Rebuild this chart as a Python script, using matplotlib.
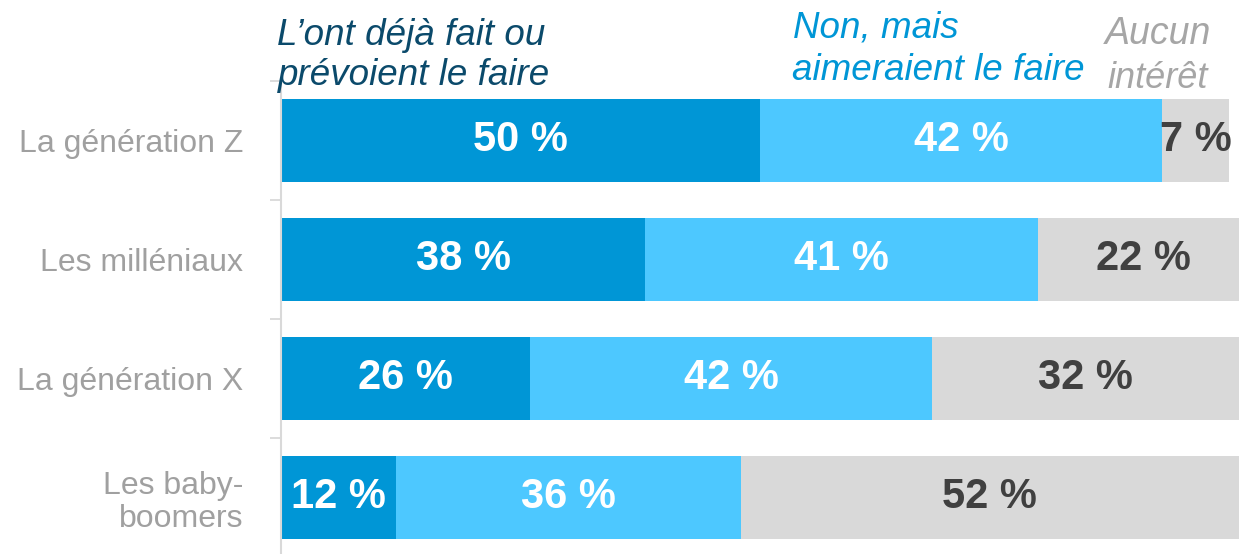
import numpy as np
import matplotlib
matplotlib.use("Agg")
from matplotlib import pyplot as plt

plt.rcParams['font.family'] = ['Liberation Sans', 'DejaVu Sans']

# donnees
categories = ['La génération Z', 'Les milléniaux', 'La génération X', 'Les baby-\nboomers']
deja_fait = [50, 38, 26, 12]
aimeraient = [42, 41, 42, 36]
aucun = [7, 22, 32, 52]

c_dark = '#0096D6'
c_light = '#4DC8FF'
c_gray = '#D9D9D9'

W, H = 1240, 554
fig = plt.figure(figsize=(W / 100, H / 100), dpi=100)
ax = fig.add_axes([0.2266, -0.0054, 0.7726, 0.8592])

y = np.arange(len(categories))
h = 0.70
series = [deja_fait, aimeraient, aucun]
colors = [c_dark, c_light, c_gray]
txt_colors = ['white', 'white', '#404040']
left = np.zeros(len(categories))
for vals, col, tcol in zip(series, colors, txt_colors):
    vals = np.array(vals, dtype=float)
    ax.barh(y, vals, left=left, height=h, color=col, edgecolor='none')
    for yi, l, v in zip(y, left, vals):
        ax.text(l + v / 2, yi, '%d %%' % v, ha='center', va='center',
                color=tcol, fontsize=30, fontweight='bold')
    left = left + vals

ax.set_xlim(0, 100)
ax.set_ylim(3.5, -0.5)
ax.set_xticks([])
ax.set_yticks(y)
ax.set_yticklabels(categories, fontsize=23, color='#A0A0A0', multialignment='right',
                   linespacing=1.15)
ax.set_yticks(np.arange(-0.5, 4.0, 1.0), minor=True)
ax.tick_params(axis='y', which='major', length=0, pad=27)
ax.tick_params(axis='y', which='minor', length=8, color='#D9D9D9', width=1.3)
for s in ['top', 'right', 'bottom']:
    ax.spines[s].set_visible(False)
ax.spines['left'].set_color('#D9D9D9')
ax.spines['left'].set_linewidth(1.5)

# legende en haut (une ligne a la fois, position en pixels)
legend_lines = [
    ("L\u2019ont déjà fait ou", 277, 45, '#0B4A6B', 26.5),
    ("prévoient le faire", 278, 85, '#0B4A6B', 26.5),
    ("Non, mais", 793, 38, c_dark, 26.5),
    ("aimeraient le faire", 792, 80, c_dark, 26.5),
    ("Aucun", 1105, 44, '#A6A6A6', 27),
    ("intérêt", 1107, 88, '#A6A6A6', 26),
]
for txt, px, py, col, fs in legend_lines:
    fig.text(px / W, 1 - py / H, txt, ha='left', va='baseline',
             fontsize=fs, style='italic', color=col)

fig.savefig('out.png', dpi=100)
